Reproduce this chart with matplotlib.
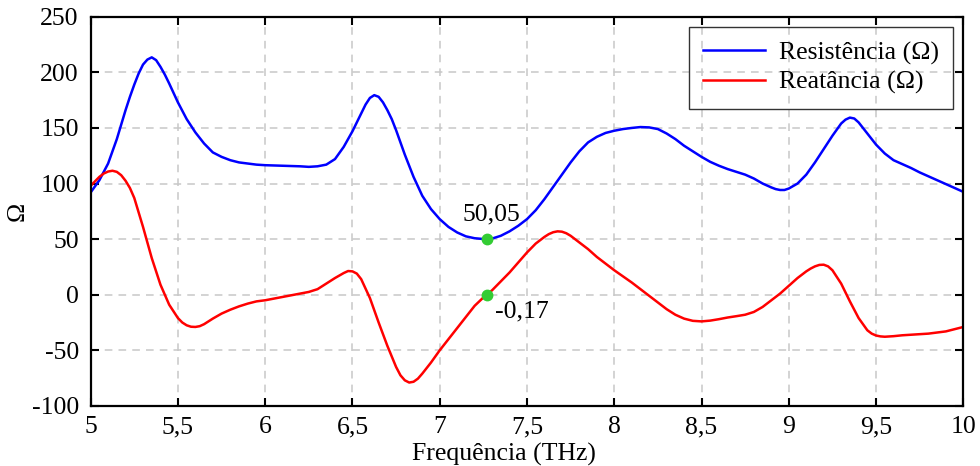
import numpy as np
from matplotlib import pyplot as plt

plt.rcParams['font.family'] = ['Liberation Serif', 'DejaVu Serif']
plt.rcParams['axes.unicode_minus'] = False

# data
freq_r = [5.00, 5.05, 5.10, 5.15, 5.20, 5.225, 5.25, 5.275, 5.30, 5.325,
          5.35, 5.375, 5.40, 5.425, 5.45, 5.50, 5.55, 5.60, 5.65, 5.70,
          5.75, 5.80, 5.85, 5.90, 5.95, 6.00, 6.10, 6.20, 6.25, 6.30,
          6.35, 6.40, 6.45, 6.50, 6.55, 6.575, 6.60, 6.625, 6.65, 6.675,
          6.70, 6.725, 6.75, 6.80, 6.85, 6.90, 6.95, 7.00, 7.05, 7.10,
          7.15, 7.20, 7.25, 7.30, 7.35, 7.40, 7.45, 7.50, 7.55, 7.60,
          7.65, 7.70, 7.75, 7.80, 7.85, 7.90, 7.95, 8.00, 8.05, 8.10,
          8.15, 8.20, 8.25, 8.30, 8.35, 8.40, 8.45, 8.50, 8.55, 8.60,
          8.65, 8.70, 8.75, 8.80, 8.85, 8.90, 8.925, 8.95, 8.975, 9.00,
          9.05, 9.10, 9.15, 9.20, 9.25, 9.30, 9.325, 9.35, 9.375, 9.40,
          9.425, 9.45, 9.50, 9.55, 9.60, 9.65, 9.70, 9.75, 9.80, 9.85,
          9.90, 9.95, 10.00]
resistencia = [92, 103, 118, 140, 166, 178, 189, 199, 207, 211.5,
               213.5, 211, 205, 198, 190, 173, 158, 146, 136, 128,
               124, 121, 119, 118, 117, 116.5, 116, 115.5, 115, 115.5,
               117, 122, 133, 147, 163, 171, 177, 179.5, 178, 173,
               166, 158, 148, 126, 106, 89, 77, 68, 61, 56,
               52.5, 50.8, 50.1, 50.5, 53, 57, 62, 68, 76, 86,
               97, 108, 119, 129, 137, 142, 145.5, 147.5, 149, 150,
               150.8, 150.5, 149, 145, 140, 134, 129, 124, 119.5, 116,
               113, 110.5, 108, 104.5, 100, 96.5, 95, 94.2, 94.2, 95.5,
               100, 108, 119, 131, 143, 154, 157.5, 159.3, 158.5, 155,
               150, 145, 135, 127, 121, 117.5, 114, 110, 106.5, 103,
               99.5, 96, 92.5]

freq_x = [5.00, 5.05, 5.075, 5.10, 5.125, 5.15, 5.175, 5.20, 5.225, 5.25,
          5.30, 5.35, 5.40, 5.45, 5.50, 5.525, 5.55, 5.575, 5.60, 5.625,
          5.65, 5.70, 5.75, 5.80, 5.85, 5.90, 5.95, 6.00, 6.05, 6.10,
          6.15, 6.20, 6.25, 6.30, 6.35, 6.40, 6.45, 6.475, 6.50, 6.525,
          6.55, 6.60, 6.65, 6.70, 6.75, 6.775, 6.80, 6.825, 6.85, 6.875,
          6.90, 6.95, 7.00, 7.05, 7.10, 7.15, 7.20, 7.25, 7.30, 7.35,
          7.40, 7.45, 7.50, 7.55, 7.60, 7.625, 7.65, 7.675, 7.70, 7.725,
          7.75, 7.80, 7.85, 7.90, 7.95, 8.00, 8.05, 8.10, 8.15, 8.20,
          8.25, 8.30, 8.35, 8.40, 8.45, 8.50, 8.55, 8.60, 8.65, 8.70,
          8.75, 8.80, 8.85, 8.90, 8.95, 9.00, 9.05, 9.10, 9.125, 9.15,
          9.175, 9.20, 9.225, 9.25, 9.30, 9.35, 9.40, 9.45, 9.475, 9.50,
          9.525, 9.55, 9.60, 9.65, 9.70, 9.75, 9.80, 9.85, 9.90, 9.95,
          10.00]
reatancia = [98, 106, 109, 110.8, 111.5, 110.5, 107.5, 102.5, 96, 87,
             61, 33, 9, -9, -21, -25, -27.5, -28.8, -29, -28.3,
             -26.5, -21.5, -17, -13.5, -10.5, -8, -6, -5, -3.5, -2,
             -0.5, 1, 2.5, 5, 10, 15, 19.5, 21.3, 21, 19,
             14, -3, -25, -46, -65, -72.5, -77, -79, -78.3, -75.5,
             -71, -61, -50, -40, -30, -20, -10, -2.5, 4, 12,
             20, 29, 38, 46, 52, 54.5, 56.2, 57, 56.7, 55.3,
             53, 47, 41, 34, 28, 22, 16.5, 11, 5, -1,
             -7, -13, -18, -21.5, -23.5, -24, -23.3, -22, -20.5, -19.3,
             -18, -15.5, -11, -5, 1, 8, 15, 21, 23.5, 25.5,
             26.8, 27, 25.5, 22, 10, -6, -21, -32, -35, -36.7,
             -37.5, -37.8, -37.3, -36.5, -36, -35.5, -35, -34, -33, -31,
             -29]

f_marker = 7.27
r_marker = 50.05
x_marker = -0.17

fig = plt.figure(figsize=(9.8, 4.66), dpi=100)
ax = fig.add_axes([0.0925, 0.129, 0.8905, 0.835])

ax.plot(freq_r, resistencia, color='#0000ff', lw=1.8, label='Resistência (Ω)')
ax.plot(freq_x, reatancia, color='#ff0000', lw=1.8, label='Reatância (Ω)')
ax.plot([f_marker, f_marker], [r_marker, x_marker], 'o', color='#33cc33',
        ms=7.5, zorder=5)
ax.annotate('50,05', (f_marker, r_marker), xytext=(3, 10), textcoords='offset points',
            ha='center', va='bottom', fontsize=18.5)
ax.annotate('-0,17', (f_marker, x_marker), xytext=(6, -4), textcoords='offset points',
            ha='left', va='top', fontsize=18.5)

ax.set_xlim(5, 10)
ax.set_ylim(-100, 250)
ax.set_xticks([5, 5.5, 6, 6.5, 7, 7.5, 8, 8.5, 9, 9.5, 10])
ax.set_xticklabels(['5', '5,5', '6', '6,5', '7', '7,5', '8', '8,5', '9', '9,5', '10'])
ax.set_yticks(np.arange(-100, 251, 50))
ax.tick_params(direction='in', top=True, right=True, length=6, width=1.5,
               labelsize=18.5)
ax.tick_params(axis='y', pad=8.5)
ax.tick_params(axis='x', pad=7.5)
for s in ax.spines.values():
    s.set_linewidth(1.6)
ax.grid(True, color='#c8c8c8', ls=(0, (5, 4)), lw=1.1)
ax.set_axisbelow(True)
ax.set_xlabel('Frequência (THz)', fontsize=18.5)
ax.xaxis.set_label_coords(0.474, -0.095)
ax.set_ylabel('Ω', fontsize=18.5, labelpad=2)

leg = ax.legend(loc='upper right', fontsize=18.5, frameon=True, fancybox=False,
                handlelength=2.4, labelspacing=0.25, borderaxespad=0.4,
                handletextpad=0.55, borderpad=0.55)
leg.get_frame().set_alpha(None)
leg.get_frame().set_facecolor((1, 1, 1, 0))
leg.get_frame().set_edgecolor('#333333')
leg.get_frame().set_linewidth(1.0)

plt.savefig('out.png', dpi=100)
